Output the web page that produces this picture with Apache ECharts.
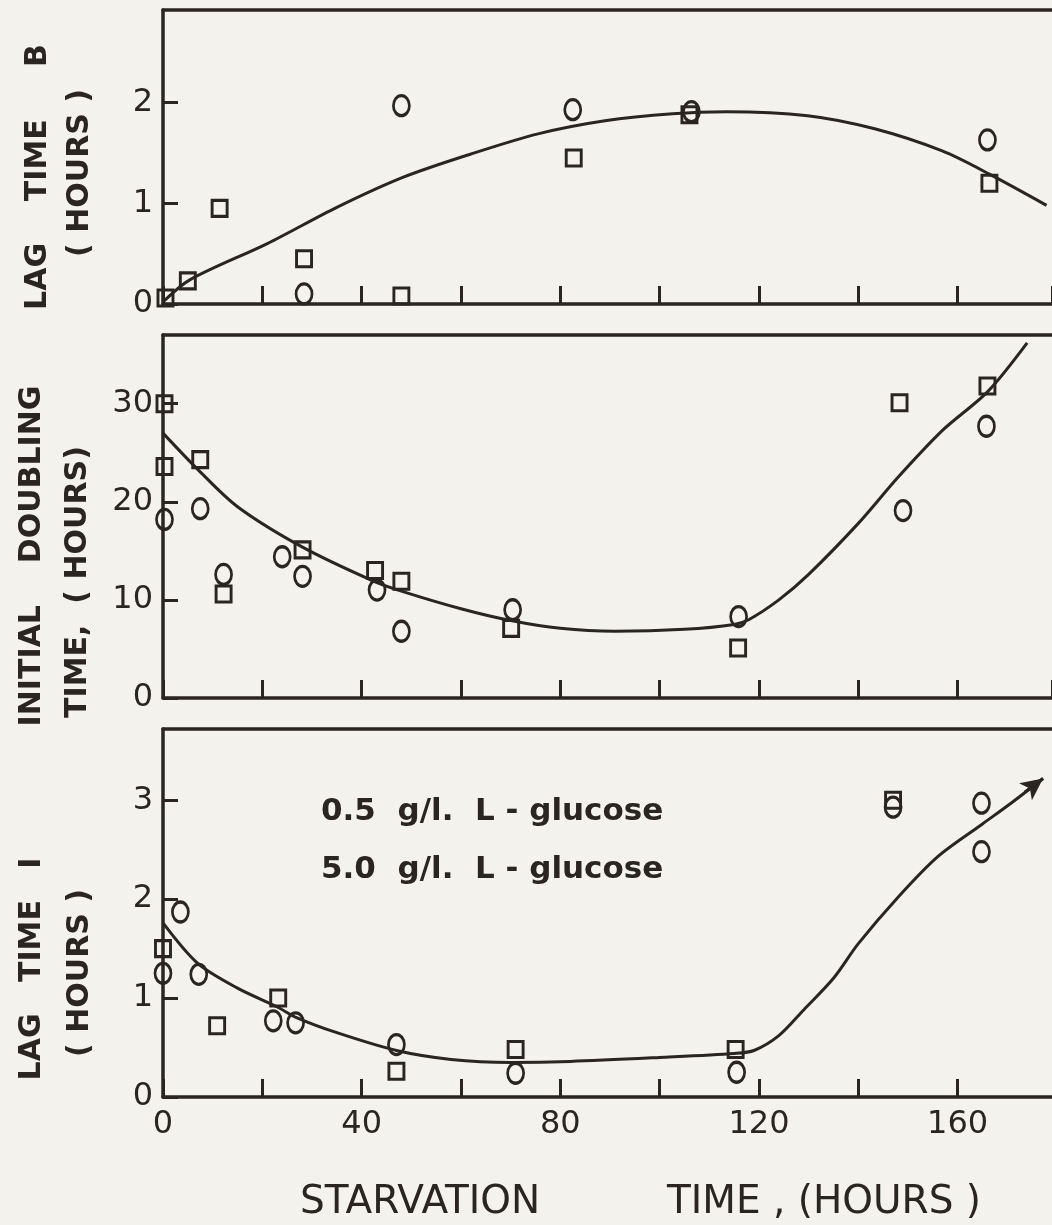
<!DOCTYPE html>
<html>
<head>
<meta charset="utf-8">
<script src="https://cdn.jsdelivr.net/npm/echarts@6/dist/echarts.min.js"></script>
<style>
  html, body { margin: 0; padding: 0; background: #f4f2ec; }
  #main { width: 1052px; height: 1225px; }
</style>
</head>
<body>
<div id="main"></div>
<script>
// starvation time (hours) on x for all three panels
var xLabels = [0, 40, 80, 120, 160];

// top panel: lag time B (hours)
var lagBSquare = [[0.5, 0.06], [5, 0.23], [11.4, 0.95], [28.4, 0.45], [48, 0.08], [82.7, 1.45], [106, 1.88], [166.4, 1.2]];
var lagBCircle = [[28.4, 0.1], [48, 1.97], [82.5, 1.93], [106.4, 1.91], [166, 1.63]];
var lagBCurve = [[0, 0.02], [5.4, 0.24], [21, 0.6], [35, 0.96], [48.4, 1.26], [62, 1.49], [75.5, 1.69], [89, 1.82],
  [102.6, 1.89], [113.5, 1.91], [129.8, 1.87], [143.3, 1.74], [156.9, 1.52], [166.4, 1.29], [177.9, 0.98]];

// middle panel: initial doubling time (hours)
var dblSquare = [[0.3, 30], [0.3, 23.6], [7.5, 24.3], [12.2, 10.6], [28.1, 15.1], [42.7, 13], [48, 11.9],
  [70.1, 7.1], [115.8, 5.1], [148.3, 30.1], [166, 31.8]];
var dblCircle = [[0.3, 18.2], [7.5, 19.3], [12.2, 12.6], [24, 14.4], [28.1, 12.4], [43.1, 11.0], [48, 6.8],
  [70.4, 9.0], [115.9, 8.3], [149, 19.1], [165.8, 27.7]];
var dblCurve = [[0, 27], [7, 23.3], [15, 19.5], [28, 15.4], [42, 12.0], [48, 10.9], [60, 9.1], [70, 7.9],
  [80, 7.1], [91, 6.8], [105, 7.0], [115, 7.5], [118, 8.0], [124, 10.0], [130, 12.6], [140, 17.8],
  [148, 22.5], [157, 27.3], [166, 31.2], [174, 36.2]];

// bottom panel: lag time I (hours)
var lagISquare = [[0, 1.5], [10.9, 0.72], [23.2, 1.0], [47, 0.26], [71, 0.48], [115.3, 0.48], [147, 3.0]];
var lagICircle = [[0, 1.25], [3.5, 1.87], [7.2, 1.24], [22.2, 0.77], [26.7, 0.75], [47, 0.53], [71, 0.24],
  [115.5, 0.25], [147, 2.93], [164.8, 2.97], [164.8, 2.48]];
var lagICurve = [[0, 1.76], [7, 1.35], [15, 1.1], [23, 0.91], [27, 0.8], [35, 0.65], [47, 0.47], [58, 0.38],
  [70, 0.35], [82, 0.36], [100, 0.4], [115, 0.44], [119, 0.47], [124, 0.62], [129, 0.88], [135, 1.2],
  [140, 1.55], [148, 2.02], [156, 2.43], [165, 2.76], [171, 2.98], [177.2, 3.22]];
var lagIArrow = [[173.5, 3.08], [177.2, 3.22]];

var yMax = [2.92, 37, 3.72];
var yStep = [1, 10, 1];

var ink = '#2a2521';
var paper = '#f4f2ec';
var font = 'DejaVu Sans';

var chart = echarts.init(document.getElementById('main'), null, { renderer: 'canvas' });

var tops = [10, 335, 729];
var heights = [294, 363, 368];

var grids = [], xAxes = [], yAxes = [];
for (var i = 0; i < 3; i++) {
  grids.push({ left: 163, right: 0, top: tops[i], height: heights[i] });
  xAxes.push({
    type: 'value', gridIndex: i, min: 0, max: 179, interval: 20,
    splitLine: { show: false },
    axisLine: { lineStyle: { color: ink, width: 3.5 } },
    axisTick: { inside: true, length: 18, lineStyle: { color: ink, width: 3 } },
    axisLabel: {
      show: i === 2, color: ink, fontFamily: font, fontSize: 32, margin: 12,
      showMaxLabel: false,
      formatter: function (v) { return xLabels.indexOf(v) >= 0 ? String(v) : ''; }
    }
  });
  // top frame line of each panel
  xAxes.push({
    type: 'value', gridIndex: i, position: 'top', min: 0, max: 179,
    splitLine: { show: false }, axisTick: { show: false }, axisLabel: { show: false },
    axisLine: { lineStyle: { color: ink, width: 3.5 } }
  });
  yAxes.push({
    type: 'value', gridIndex: i, min: 0, max: yMax[i], interval: yStep[i],
    splitLine: { show: false },
    axisLine: { lineStyle: { color: ink, width: 3.5 } },
    axisTick: { inside: true, length: 15, lineStyle: { color: ink, width: 3 } },
    axisLabel: { color: ink, fontFamily: font, fontSize: 32, margin: 10, showMaxLabel: false }
  });
}

function scatter(idx, data, shape) {
  return {
    type: 'scatter', xAxisIndex: idx * 2, yAxisIndex: idx, data: data, clip: false,
    symbol: shape, symbolSize: shape === 'rect' ? [15, 16] : [16, 20],
    itemStyle: { color: 'transparent', borderColor: ink, borderWidth: 3, opacity: 1 },
    z: 3
  };
}
function curve(idx, data) {
  return {
    type: 'line', xAxisIndex: idx * 2, yAxisIndex: idx, data: data, smooth: 0.3,
    showSymbol: false, clip: false,
    lineStyle: { color: ink, width: 3 }, z: 2
  };
}

var arrowSeries = curve(2, []);
arrowSeries.markLine = {
  silent: true, symbol: ['none', 'arrow'], symbolSize: [16, 22],
  label: { show: false },
  lineStyle: { color: ink, width: 3, type: 'solid' },
  data: [[{ coord: lagIArrow[0] }, { coord: lagIArrow[1] }]]
};

function vtext(x, y, text) {
  return {
    type: 'text', x: x, y: y, rotation: Math.PI / 2,
    style: {
      text: text, fill: ink, font: 'bold 30px "' + font + '"',
      align: 'center', verticalAlign: 'middle',
      textAlign: 'center', textVerticalAlign: 'middle'
    }
  };
}
function htext(x, y, text, css) {
  return {
    type: 'text', x: x, y: y,
    style: {
      text: text, fill: ink, font: css + ' "' + font + '"',
      align: 'left', verticalAlign: 'middle',
      textAlign: 'left', textVerticalAlign: 'middle'
    }
  };
}

var option = {
  backgroundColor: paper,
  animation: false,
  grid: grids,
  xAxis: xAxes,
  yAxis: yAxes,
  graphic: [
    vtext(38, 177, 'LAG    TIME     B'),
    vtext(80, 173, '( HOURS )'),
    vtext(32, 556, 'INITIAL    DOUBLING'),
    vtext(78, 582, 'TIME,  ( HOURS)'),
    vtext(32, 969, 'LAG   TIME   I'),
    vtext(80, 973, '( HOURS )'),
    htext(321, 812, '0.5  g/l.  L - glucose', 'bold 31px'),
    htext(321, 870, '5.0  g/l.  L - glucose', 'bold 31px'),
    htext(300, 1203, 'STARVATION', '39px'),
    htext(667, 1203, 'TIME , (HOURS )', '39px')
  ],
  series: [
    curve(0, lagBCurve), scatter(0, lagBSquare, 'rect'), scatter(0, lagBCircle, 'circle'),
    curve(1, dblCurve), scatter(1, dblSquare, 'rect'), scatter(1, dblCircle, 'circle'),
    curve(2, lagICurve), scatter(2, lagISquare, 'rect'), scatter(2, lagICircle, 'circle'),
    arrowSeries
  ]
};

chart.setOption(option);
</script>
</body>
</html>
